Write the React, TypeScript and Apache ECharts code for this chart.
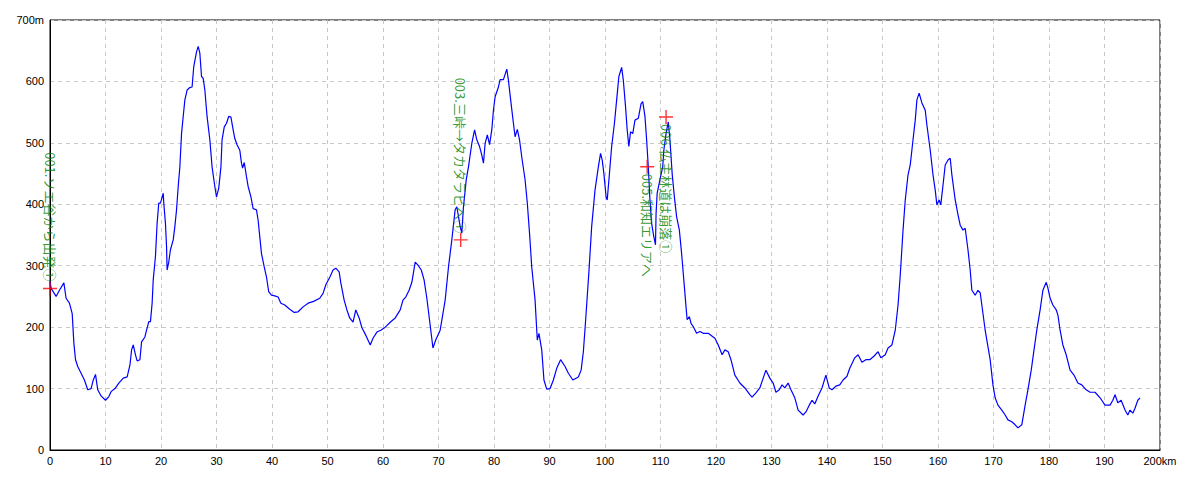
import React, { useEffect, useRef } from "react";
import * as echarts from "echarts";

// Elevation profile: distance (km) and elevation (m)
const distKm = [
  0.0, 0.2, 1.1, 1.7, 2.5, 2.9, 3.5, 4.0, 4.3, 4.6, 5.0, 5.6, 6.2, 6.8, 7.4, 7.8, 8.2, 8.6, 9.2, 10.0,
  10.6, 11.0, 11.7, 12.4, 13.2, 13.9, 14.4, 14.7, 15.0, 15.4, 15.7, 16.2, 16.5, 17.1, 17.4, 17.8, 18.1, 18.4, 18.6, 19.0,
  19.3, 19.6, 19.9, 20.1, 20.4, 20.5, 20.8, 21.0, 21.1, 21.4, 21.7, 22.2, 22.5, 22.8, 23.1, 23.4, 23.7, 24.0, 24.3, 24.7,
  25.2, 25.6, 25.9, 26.4, 26.7, 27.0, 27.3, 27.6, 27.9, 28.3, 28.8, 29.2, 29.7, 30.0, 30.4, 30.8, 31.0, 31.4, 31.8, 32.2,
  32.6, 33.0, 33.3, 33.7, 34.2, 34.5, 34.7, 35.0, 35.4, 35.7, 36.2, 36.6, 37.2, 37.5, 37.8, 38.1, 38.6, 39.0, 39.4, 39.9,
  40.5, 41.1, 41.6, 42.3, 43.2, 44.0, 44.7, 45.6, 46.5, 47.5, 48.6, 49.2, 49.7, 50.5, 51.0, 51.5, 52.1, 52.4, 53.0, 53.5,
  54.0, 54.6, 55.1, 55.7, 56.2, 56.9, 57.7, 58.2, 58.9, 59.6, 60.4, 61.3, 62.2, 63.1, 63.6, 64.1, 64.7, 65.2, 65.8, 66.3,
  66.9, 67.4, 67.9, 68.5, 69.0, 69.5, 70.3, 71.2, 71.8, 72.4, 73.0, 73.3, 73.9, 74.2, 74.5, 75.0, 75.4, 76.0, 76.5, 76.9,
  77.4, 77.8, 78.1, 78.4, 78.8, 79.2, 79.6, 79.9, 80.2, 80.8, 81.1, 81.7, 82.3, 82.6, 83.0, 83.5, 83.8, 84.2, 84.6, 85.0,
  85.6, 86.0, 86.4, 86.8, 87.4, 87.8, 88.1, 88.6, 89.0, 89.5, 90.1, 90.7, 91.3, 92.0, 92.8, 93.4, 94.2, 95.2, 95.7, 96.1,
  96.5, 96.8, 97.1, 97.6, 98.2, 98.8, 99.2, 99.5, 99.8, 100.2, 100.4, 100.8, 101.2, 101.7, 102.1, 102.5, 103.0, 103.3, 103.7, 104.0,
  104.3, 104.6, 105.0, 105.4, 106.0, 106.5, 106.8, 107.2, 107.5, 107.8, 108.1, 108.4, 108.8, 109.1, 109.2, 109.4, 109.9, 110.4, 110.6, 111.0,
  111.4, 111.7, 112.1, 112.5, 112.9, 113.4, 113.8, 114.2, 114.6, 114.8, 115.2, 115.5, 115.9, 116.5, 117.1, 117.7, 118.6, 119.8, 120.4, 121.1,
  121.6, 122.2, 122.7, 123.4, 124.3, 125.2, 126.1, 126.5, 127.2, 127.9, 128.5, 129.0, 129.7, 130.3, 130.8, 131.4, 131.9, 132.4, 133.0, 133.5,
  134.2, 134.8, 135.7, 136.2, 136.8, 137.3, 137.8, 138.4, 139.1, 139.8, 140.4, 140.9, 141.6, 142.3, 142.9, 143.6, 144.1, 145.0, 145.6, 146.3,
  147.0, 147.7, 148.5, 149.2, 149.7, 150.5, 151.0, 151.7, 152.3, 152.8, 153.2, 153.7, 154.1, 154.6, 155.0, 155.5, 155.9, 156.2, 156.6, 157.1,
  157.7, 158.0, 158.6, 159.1, 159.5, 159.8, 160.2, 160.5, 160.9, 161.3, 161.8, 162.2, 162.5, 163.1, 163.6, 164.0, 164.5, 164.9, 165.4, 165.8,
  166.1, 166.7, 167.2, 167.6, 167.9, 168.5, 168.8, 169.4, 169.9, 170.3, 170.8, 171.5, 172.1, 172.6, 173.3, 173.9, 174.4, 175.1, 175.7, 176.2,
  176.8, 177.3, 177.8, 178.4, 178.9, 179.5, 179.8, 180.2, 180.7, 181.3, 181.6, 182.0, 182.5, 183.1, 183.8, 184.5, 185.2, 185.9, 186.7, 187.4,
  188.3, 189.2, 190.1, 191.0, 191.5, 191.9, 192.4, 193.0, 193.7, 194.2, 194.6, 195.1, 195.5, 196.0, 196.4,
];
const elevM = [
  275, 263, 250, 260, 272, 247, 239, 222, 174, 147, 136, 125, 114, 98, 100, 114, 123, 98, 88, 81,
  87, 95, 100, 109, 117, 119, 138, 163, 171, 155, 145, 147, 176, 184, 195, 209, 209, 239, 277, 315,
  369, 402, 402, 408, 418, 402, 369, 331, 293, 306, 326, 342, 364, 391, 429, 461, 515, 543, 570, 586,
  590, 591, 624, 648, 657, 646, 608, 605, 586, 543, 505, 461, 429, 412, 426, 461, 505, 526, 532, 543,
  542, 521, 507, 497, 488, 467, 459, 468, 445, 429, 412, 393, 391, 374, 347, 320, 298, 282, 258, 252,
  251, 249, 239, 236, 229, 224, 225, 233, 239, 242, 247, 255, 269, 283, 293, 296, 290, 272, 244, 228,
  215, 208, 228, 215, 199, 187, 171, 182, 192, 195, 200, 208, 215, 228, 244, 249, 260, 273, 306, 301,
  293, 277, 247, 203, 166, 179, 195, 244, 298, 342, 391, 396, 364, 353, 396, 440, 461, 499, 521, 505,
  494, 480, 467, 499, 513, 497, 521, 553, 575, 591, 603, 603, 620, 602, 570, 532, 510, 522, 505, 477,
  440, 402, 353, 298, 244, 179, 190, 163, 114, 99, 100, 114, 133, 147, 136, 125, 114, 119, 130, 160,
  210, 250, 290, 364, 423, 461, 483, 472, 450, 412, 407, 450, 494, 532, 570, 608, 623, 602, 559, 521,
  494, 518, 515, 537, 540, 564, 567, 543, 505, 461, 407, 369, 347, 334, 385, 418, 440, 461, 488, 515,
  534, 505, 450, 412, 380, 358, 320, 277, 233, 212, 217, 206, 201, 190, 193, 190, 190, 182, 171, 155,
  163, 160, 147, 122, 109, 101, 90, 86, 93, 101, 117, 130, 117, 109, 94, 98, 106, 101, 109, 98,
  85, 65, 57, 62, 73, 81, 75, 88, 101, 122, 101, 98, 104, 106, 114, 120, 133, 150, 155, 143,
  147, 147, 153, 160, 150, 155, 166, 171, 195, 236, 285, 358, 407, 448, 464, 505, 537, 570, 581, 565,
  553, 529, 488, 448, 423, 399, 407, 399, 431, 464, 472, 475, 448, 407, 383, 366, 358, 361, 326, 293,
  260, 252, 260, 256, 236, 195, 179, 147, 106, 85, 73, 65, 57, 49, 46, 41, 36, 41, 73, 98,
  130, 163, 195, 228, 260, 273, 264, 247, 236, 228, 220, 195, 171, 155, 130, 122, 109, 106, 98, 94,
  94, 85, 73, 73, 81, 90, 77, 81, 65, 57, 65, 60, 68, 81, 85,
];

// Waypoint markers
const markerKm = [0, 74.0, 107.6, 111.0];
const markerM = [263, 342, 461, 542];
const markerLabels = [
  "001.ソエ谷から出発①",
  "003.三峠→タカタラビへ①",
  "005.和知エリアへ",
  "006.仏主林道は崩落①",
];
const markerSide = ["top", "top", "bottom", "bottom"];

// Axis ticks
const xMin = 0;
const xMax = 200;
const xStep = 10;
const yMin = 0;
const yMax = 700;
const yStep = 100;

export default function App() {
  const ref = useRef<HTMLDivElement>(null);

  useEffect(() => {
    document.body.style.margin = "0";
    const chart = echarts.init(ref.current as HTMLDivElement, null, { renderer: "svg" });
    const lineData = distKm.map((d, i) => [d, elevM[i]]);
    const markerData = markerKm.map((d, i) => ({
      value: [d, markerM[i]],
      name: markerLabels[i],
      label: {
        show: true,
        position: markerSide[i],
        distance: 0,
        rotate: -90,
        align: markerSide[i] === "top" ? "right" : "left",
        verticalAlign: "middle",
        formatter: markerLabels[i],
        color: "#008000",
        fontSize: 13,
        fontFamily: "Noto Sans CJK JP",
      },
    }));
    const axisFont = { color: "#000", fontSize: 11, fontFamily: "Liberation Sans" };
    chart.setOption({
      animation: false,
      backgroundColor: "#fff",
      grid: {
        left: 50,
        right: 40,
        top: 20,
        bottom: 30,
        show: true,
        borderColor: "#000",
        borderWidth: 1,
        backgroundColor: "transparent",
      },
      xAxis: {
        type: "value",
        min: xMin,
        max: xMax,
        interval: xStep,
        axisLine: { show: true, lineStyle: { color: "#000", width: 1 } },
        axisTick: { show: false },
        axisLabel: {
          ...axisFont,
          margin: 5,
          formatter: (v: number) => (v === xMax ? `${v}km` : String(v)),
        },
        splitLine: { show: true, lineStyle: { color: "#c8c8c8", type: [4, 4], width: 1 } },
      },
      yAxis: {
        type: "value",
        min: yMin,
        max: yMax,
        interval: yStep,
        axisLine: { show: true, lineStyle: { color: "#000", width: 1 } },
        axisTick: { show: false },
        axisLabel: {
          ...axisFont,
          margin: 6,
          formatter: (v: number) => (v === yMax ? `${v}m` : String(v)),
        },
        splitLine: { show: true, lineStyle: { color: "#c8c8c8", type: [4, 4], width: 1 } },
      },
      series: [
        {
          type: "line",
          data: lineData,
          showSymbol: false,
          symbol: "none",
          lineStyle: { color: "#0000ff", width: 1.2 },
          z: 2,
        },
        {
          type: "scatter",
          data: markerData,
          symbol: "path://M0,6.3h14v1.4H0z M6.3,0h1.4v14H6.3z",
          symbolSize: 14,
          itemStyle: { color: "#ff0000" },
          z: 3,
        },
      ],
    });
    return () => chart.dispose();
  }, []);

  return <div ref={ref} style={{ width: 1200, height: 480, background: "#fff" }} />;
}
